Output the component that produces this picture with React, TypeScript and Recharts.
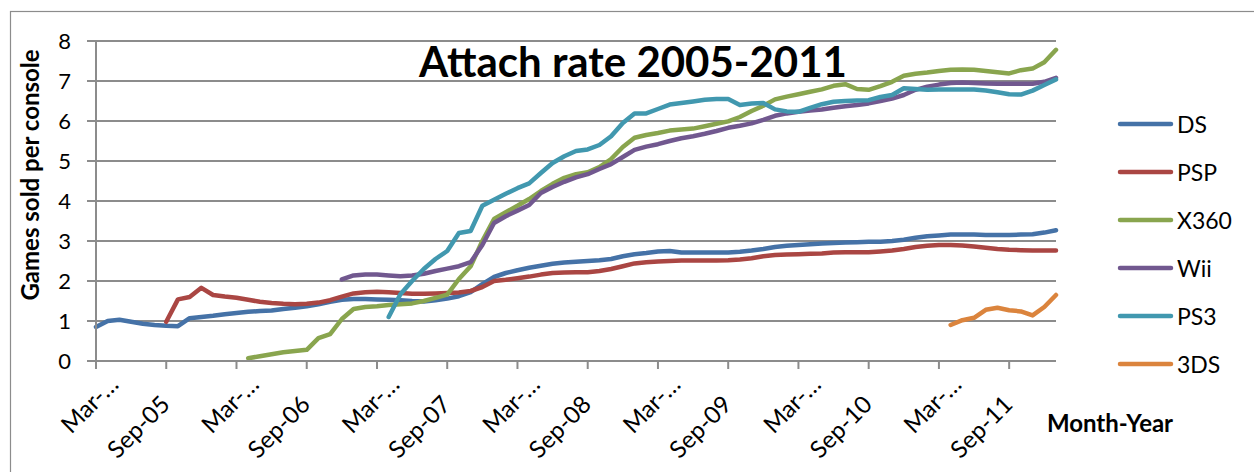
import { LineChart, Line, XAxis, YAxis, CartesianGrid } from "recharts";

// months counted from Mar-05 (index 0) to Jan-12 (index 82)
const MONTH_COUNT = 83;
const MONTH_TICKS = [0, 6, 12, 18, 24, 30, 36, 42, 48, 54, 60, 66, 72, 78];
const MONTH_LABELS = [
  "Mar-…", "Sep-05", "Mar-…", "Sep-06", "Mar-…", "Sep-07", "Mar-…",
  "Sep-08", "Mar-…", "Sep-09", "Mar-…", "Sep-10", "Mar-…", "Sep-11",
];
const Y_TICKS = [0, 1, 2, 3, 4, 5, 6, 7, 8];

const DS_START = 0;
const DS = [
  0.85, 1.0, 1.03, 0.98, 0.93, 0.9, 0.88, 0.87, 1.07, 1.1, 1.13, 1.17,
  1.2, 1.23, 1.25, 1.26, 1.3, 1.33, 1.37, 1.42, 1.48, 1.53, 1.55, 1.55,
  1.54, 1.53, 1.52, 1.5, 1.49, 1.52, 1.56, 1.62, 1.72, 1.92, 2.1, 2.2,
  2.27, 2.33, 2.38, 2.43, 2.46, 2.48, 2.5, 2.52, 2.55, 2.62, 2.67, 2.7,
  2.74, 2.75, 2.71, 2.71, 2.71, 2.71, 2.71, 2.73, 2.76, 2.8, 2.85, 2.88,
  2.9, 2.92, 2.94, 2.95, 2.96, 2.97, 2.98, 2.98, 3.0, 3.03, 3.08, 3.12,
  3.14, 3.16, 3.16, 3.16, 3.15, 3.15, 3.15, 3.16, 3.17, 3.21, 3.27,
];

const PSP_START = 6;
const PSP = [
  0.98, 1.54, 1.6, 1.83, 1.65, 1.61, 1.58, 1.53, 1.48, 1.45, 1.43, 1.42,
  1.43, 1.46, 1.52, 1.61, 1.69, 1.72, 1.73, 1.72, 1.7, 1.68, 1.68, 1.69,
  1.7, 1.71, 1.75, 1.85, 2.0, 2.03, 2.07, 2.11, 2.16, 2.2, 2.21, 2.22,
  2.22, 2.25, 2.3, 2.37, 2.44, 2.47, 2.49, 2.5, 2.51, 2.51, 2.51, 2.51,
  2.52, 2.54, 2.57, 2.62, 2.65, 2.66, 2.67, 2.68, 2.69, 2.71, 2.72, 2.72,
  2.72, 2.74, 2.76, 2.8, 2.85, 2.88, 2.9, 2.9, 2.89, 2.86, 2.83, 2.8,
  2.78, 2.77, 2.76, 2.76, 2.76,
];

const X360_START = 13;
const X360 = [
  0.07, 0.12, 0.17, 0.22, 0.25, 0.28, 0.57, 0.67, 1.05, 1.3, 1.35, 1.37,
  1.4, 1.42, 1.44, 1.5, 1.58, 1.66, 2.05, 2.37, 3.0, 3.55, 3.72, 3.88,
  4.05, 4.25, 4.43, 4.58, 4.67, 4.72, 4.85, 5.05, 5.35, 5.58, 5.65, 5.7,
  5.76, 5.79, 5.81, 5.87, 5.93, 5.99, 6.1, 6.25, 6.38, 6.54, 6.61, 6.67,
  6.73, 6.79, 6.88, 6.92, 6.8, 6.78, 6.87, 6.98, 7.13, 7.18, 7.21, 7.25,
  7.28, 7.29, 7.28, 7.25, 7.22, 7.19, 7.27, 7.31, 7.47, 7.78,
];

const WII_START = 21;
const WII = [
  2.04, 2.14, 2.16, 2.16, 2.14, 2.12, 2.14, 2.18, 2.25, 2.31, 2.37, 2.47,
  2.9, 3.45, 3.62, 3.76, 3.9, 4.2, 4.35, 4.48, 4.59, 4.67, 4.8, 4.92,
  5.1, 5.28, 5.36, 5.42, 5.5, 5.57, 5.62, 5.68, 5.75, 5.83, 5.88, 5.94,
  6.03, 6.13, 6.19, 6.23, 6.26, 6.29, 6.33, 6.37, 6.4, 6.44, 6.5, 6.56,
  6.65, 6.78, 6.86, 6.91, 6.95, 6.96, 6.95, 6.94, 6.93, 6.93, 6.93, 6.93,
  6.98, 7.08,
];

const PS3_START = 25;
const PS3 = [
  1.1, 1.67, 2.0, 2.3, 2.55, 2.75, 3.2, 3.25, 3.88, 4.03, 4.18, 4.32,
  4.44, 4.7, 4.95, 5.12, 5.25, 5.29, 5.4, 5.62, 5.95, 6.19, 6.19, 6.3,
  6.41, 6.45, 6.49, 6.53, 6.55, 6.55, 6.4, 6.44, 6.45, 6.29, 6.24, 6.23,
  6.33, 6.42, 6.48, 6.5, 6.51, 6.52, 6.6, 6.65, 6.82, 6.8, 6.78, 6.79,
  6.79, 6.79, 6.79, 6.76, 6.72, 6.67, 6.66, 6.76, 6.9, 7.04,
];

const N3DS_START = 73;
const N3DS = [0.9, 1.02, 1.08, 1.28, 1.33, 1.27, 1.24, 1.14, 1.35, 1.65];

const SERIES = [
  { name: "DS", start: DS_START, values: DS, color: "#4572A7" },
  { name: "PSP", start: PSP_START, values: PSP, color: "#AA4643" },
  { name: "X360", start: X360_START, values: X360, color: "#89A54E" },
  { name: "Wii", start: WII_START, values: WII, color: "#71588F" },
  { name: "PS3", start: PS3_START, values: PS3, color: "#4198AF" },
  { name: "3DS", start: N3DS_START, values: N3DS, color: "#DB843D" },
];

const FONT = "Lato, Carlito, Calibri, sans-serif";
const GRID = "#8c8c8c";

const rows = Array.from({ length: MONTH_COUNT }, (_, m) => {
  const row: Record<string, number | null> = { m };
  for (const s of SERIES) {
    const i = m - s.start;
    row[s.name] = i >= 0 && i < s.values.length ? s.values[i] : null;
  }
  return row;
});

function MonthTick(props: any) {
  const { x, y, payload } = props;
  const label = MONTH_LABELS[MONTH_TICKS.indexOf(payload.value)] ?? "";
  const cut = label.endsWith("…");
  const ax = x + (cut ? 24 : 5);
  const ay = y + (cut ? 15 : 35);
  return (
    <text
      x={ax}
      y={ay}
      textAnchor="end"
      transform={`rotate(-45 ${ax} ${ay})`}
      fontFamily={FONT}
      fontSize={24}
      fill="#000"
    >
      {label}
    </text>
  );
}

export default function App() {
  return (
    <div
      style={{
        position: "absolute",
        left: 0,
        top: 0,
        width: 1254,
        height: 472,
        background: "#fff",
        overflow: "hidden",
      }}
    >
      <LineChart
        width={1254}
        height={472}
        data={rows}
        margin={{ top: 41, right: 198, bottom: 0, left: 0 }}
      >
        <CartesianGrid
          vertical={false}
          stroke={GRID}
          strokeWidth={2}
          horizontalValues={Y_TICKS}
        />
        <XAxis
          dataKey="m"
          type="number"
          domain={[0, MONTH_COUNT - 1]}
          ticks={MONTH_TICKS}
          interval={0}
          height={111}
          tickSize={8}
          axisLine={{ stroke: GRID, strokeWidth: 2 }}
          tickLine={{ stroke: GRID, strokeWidth: 2 }}
          tick={(p: any) => <MonthTick {...p} />}
        />
        <YAxis
          width={96}
          domain={[0, 8]}
          ticks={Y_TICKS}
          interval={0}
          tickSize={9}
          tickMargin={16}
          axisLine={{ stroke: GRID, strokeWidth: 2 }}
          tickLine={{ stroke: GRID, strokeWidth: 2 }}
          tick={{ fontFamily: FONT, fontSize: 22, fill: "#000" }}
        />
        {SERIES.map((s) => (
          <Line
            key={s.name}
            dataKey={s.name}
            type="linear"
            stroke={s.color}
            strokeWidth={4.5}
            strokeLinecap="round"
            strokeLinejoin="round"
            dot={false}
            activeDot={false}
            connectNulls={false}
            isAnimationActive={false}
          />
        ))}
      </LineChart>

      <svg
        width={1254}
        height={472}
        style={{ position: "absolute", left: 0, top: 0, pointerEvents: "none" }}
      >
        <rect x={10.5} y={11.5} width={1300} height={500} fill="none" stroke={GRID} strokeWidth={1.2} />
        <text x={633} y={77} textAnchor="middle" fontFamily={FONT} fontWeight={700} fontSize={42} fill="#000">
          Attach rate 2005-2011
        </text>
        <text
          x={39}
          y={175}
          textAnchor="middle"
          transform="rotate(-90 39 175)"
          fontFamily={FONT}
          fontWeight={700}
          fontSize={24}
          fill="#000"
        >
          Games sold per console
        </text>
        <text x={1110} y={432} textAnchor="middle" fontFamily={FONT} fontWeight={700} fontSize={24} fill="#000">
          Month-Year
        </text>
      </svg>

      <div style={{ position: "absolute", left: 1116, top: 100, fontFamily: FONT, fontSize: 23, color: "#000" }}>
        {SERIES.map((s) => (
          <div key={s.name} style={{ display: "flex", alignItems: "center", height: 48 }}>
            <svg width={58} height={10}>
              <line x1={4} x2={55} y1={5} y2={5} stroke={s.color} strokeWidth={4.5} strokeLinecap="round" />
            </svg>
            <span style={{ marginLeft: 3, lineHeight: 1 }}>{s.name}</span>
          </div>
        ))}
      </div>
    </div>
  );
}
